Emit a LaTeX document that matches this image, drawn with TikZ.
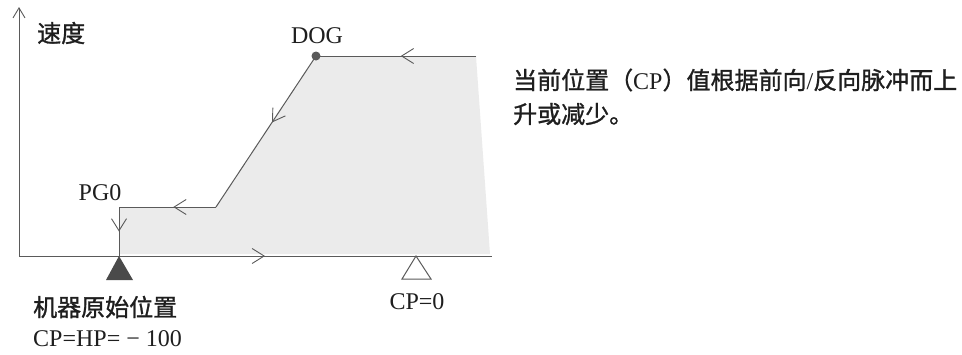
\documentclass[tikz,border=0pt]{standalone}
\usepackage{fontspec}
\setmainfont{Liberation Serif}
\newfontfamily\cjk[FakeBold=1.2]{Noto Sans CJK SC}
\usetikzlibrary{arrows.meta,decorations.markings}
\definecolor{linec}{HTML}{5A5A5A}
\definecolor{fillc}{HTML}{EBEBEB}
\definecolor{darktri}{HTML}{4A4A4A}
\definecolor{txt}{HTML}{1E1E1E}
\tikzset{
  barb/.tip={Straight Barb[length=12pt,width=15pt,line width=0.9pt]},
  axisbarb/.tip={Straight Barb[length=10pt,width=12pt,line width=0.9pt]},
  pathline/.style={draw=linec,line width=1pt},
  midarrow/.style={postaction={decorate,decoration={markings,mark=at position #1 with {\arrow[linec]{barb}}}}},
  lbl/.style={text=txt,font=\fontsize{24}{28}\selectfont,inner sep=0pt},
}
\begin{document}
\begin{tikzpicture}[x=1pt,y=-1pt]
\useasboundingbox (0,0) rectangle (962,354);
% coordinates
\coordinate (O) at (19,256);
\coordinate (Ytop) at (19,7);
\coordinate (Xend) at (492,256);
\coordinate (start) at (476,56);
\coordinate (dog) at (316,56);
\coordinate (knee) at (216,207);
\coordinate (pgcorner) at (119,207);
\coordinate (home) at (119,256);
\coordinate (zero) at (416,256);
% fill
\fill[fillc] (pgcorner) -- (knee) -- (dog) -- (start) -- (490,254) -- (119,254) -- cycle;
% axes
\draw[pathline,-axisbarb] (O) -- (Ytop);
\draw[pathline,midarrow=0.52] (O) -- (Xend);
% path
\draw[pathline,midarrow=0.47] (start) -- (dog);
\draw[pathline,midarrow=0.44] (dog) -- (knee);
\draw[pathline,midarrow=0.44] (knee) -- (pgcorner);
\draw[pathline,midarrow=0.5] (pgcorner) -- (home);
\fill[linec] (dog) circle (4.5);
% triangles
\fill[darktri] (home) -- (106,280) -- (133,280) -- cycle;
\draw[linec,line width=1pt,fill=white] (zero) -- (402,279) -- (431,279) -- cycle;
% labels
\node[lbl,anchor=west] (speed) at (37,33) {\cjk 速度};
\node[lbl] (doglbl) at (317,36) {DOG};
\node[lbl] (pglbl) at (100,193) {PG0};
\node[lbl] (cp0) at (417,302) {CP=0};
\node[lbl,anchor=west] (homelbl) at (33,307) {\cjk 机器原始位置};
\node[lbl,anchor=west] (hp) at (33,339) {CP=HP=~−~100};
\node[lbl,anchor=west] (note1) at (513,80) {{\cjk 当前位置（}CP{\cjk ）值根据前向}/{\cjk 反向脉冲而上}};
\node[lbl,anchor=west] (note2) at (513,114) {\cjk 升或减少。};
\end{tikzpicture}
\end{document}
